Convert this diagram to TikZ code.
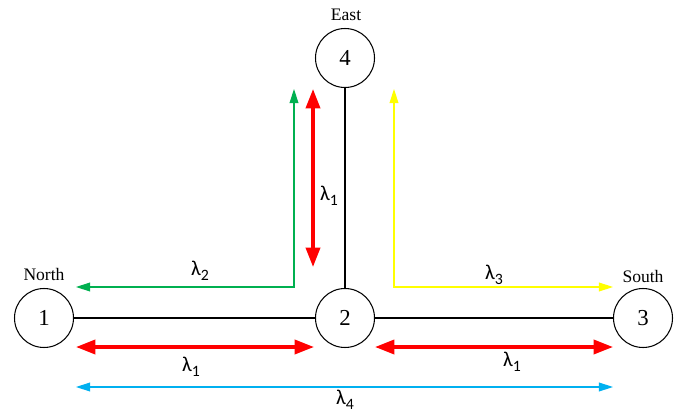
\documentclass[tikz,border=0pt]{standalone}
\usepackage{fontspec}
\setmainfont{Liberation Serif}
\newfontfamily\lamfont{Carlito}
\usetikzlibrary{arrows.meta}
\definecolor{lgreen}{RGB}{0,176,80}
\definecolor{lblue}{RGB}{0,176,240}
\definecolor{lyellow}{RGB}{255,255,0}
\newcommand{\lam}[1]{{\lamfont λ\raisebox{-0.45ex}{\fontsize{9}{10}\selectfont #1}}}

\begin{document}
\begin{tikzpicture}[
      x=0.02cm,y=-0.02cm,
      bus/.style={draw=black,line width=0.6pt,circle,minimum size=1.18cm,inner sep=0pt,font=\fontsize{13}{15}\selectfont},
      place/.style={font=\fontsize{10}{12}\selectfont},
      lab/.style={font=\fontsize{12}{14}\selectfont},
      feeder/.style={draw=black,line width=1.7pt},
      flow/.style={draw=red,line width=1.9pt,{Triangle[length=11pt,width=8pt]}-{Triangle[length=11pt,width=8pt]}},
      route/.style={line width=0.6pt,{Triangle[length=8pt,width=5pt]}-{Triangle[length=8pt,width=5pt]}}
    ]
    \useasboundingbox (0,0) rectangle (686,412);
    % buses
    \node[bus] (n1) at (44,318) {1};
    \node[bus] (n2) at (345,318) {2};
    \node[bus] (n3) at (643,318) {3};
    \node[bus] (n4) at (345,58) {4};
    \node[place] (north) at (44,274) {North};
    \node[place] (south) at (643,276) {South};
    \node[place] (east) at (346,15) {East};
    % feeders
    \draw[feeder] (n1) -- (n2);
    \draw[feeder] (n2) -- (n3);
    \draw[feeder] (n4) -- (n2);
    % arrow end points
    \coordinate (rv1) at (313,89);
    \coordinate (rv2) at (313,267);
    \coordinate (rl1) at (76,347);
    \coordinate (rl2) at (314,347);
    \coordinate (rr1) at (375,347);
    \coordinate (rr2) at (613,347);
    \coordinate (g1) at (76,287);
    \coordinate (gc) at (294,287);
    \coordinate (g2) at (294,89);
    \coordinate (y1) at (394,89);
    \coordinate (yc) at (394,287);
    \coordinate (y2) at (613,287);
    \coordinate (b1) at (76,387);
    \coordinate (b2) at (613,387);
    % lambda_1 flows
    \draw[flow] (rv1) -- (rv2);
    \draw[flow] (rl1) -- (rl2);
    \draw[flow] (rr1) -- (rr2);
    \node[lab] (l1v) at (329,196) {\lam{1}};
    \node[lab] (l1l) at (191,367) {\lam{1}};
    \node[lab] (l1r) at (512,362) {\lam{1}};
    % other routes
    \draw[route,lgreen] (g1) -- (gc) -- (g2);
    \draw[route,lyellow] (y1) -- (yc) -- (y2);
    \draw[route,lblue] (b1) -- (b2);
    \node[lab] (l2) at (200,271) {\lam{2}};
    \node[lab] (l3) at (494,275) {\lam{3}};
    \node[lab] (l4) at (345,400) {\lam{4}};
\end{tikzpicture}
\end{document}
